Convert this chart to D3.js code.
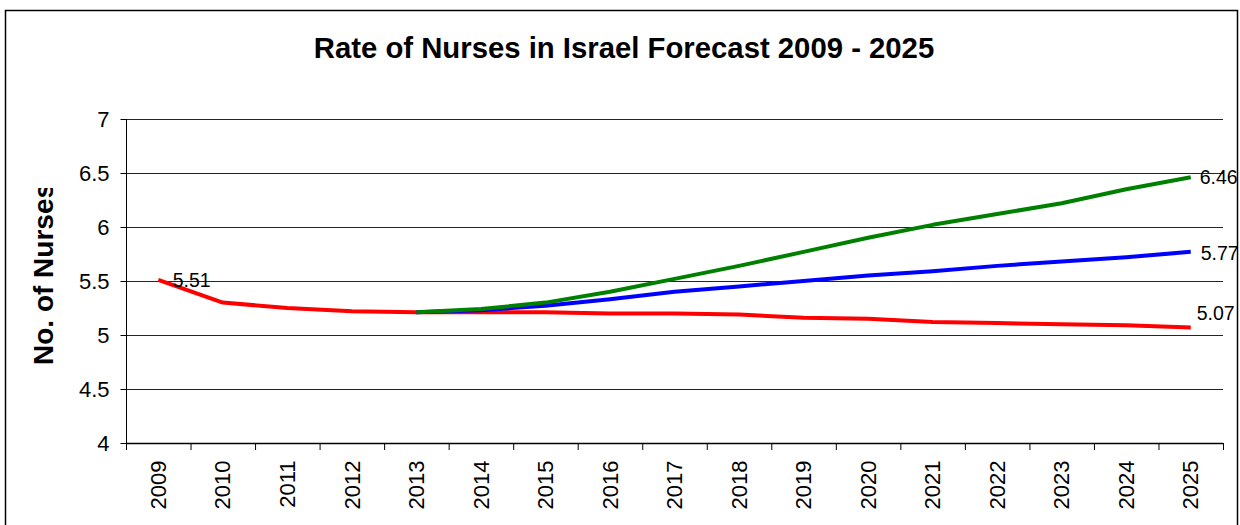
<!DOCTYPE html>
<html><head><meta charset="utf-8">
<script src="https://cdn.jsdelivr.net/npm/d3@7"></script>
<style>body{margin:0;background:#fff}svg{display:block;font-family:"Liberation Sans",Arial,sans-serif}</style>
</head><body><svg id="c" width="1240" height="525"></svg>
<script>
const years = ["2009","2010","2011","2012","2013","2014","2015","2016","2017","2018","2019","2020","2021","2022","2023","2024","2025"];
const redValues = [5.51,5.30,5.25,5.22,5.21,5.21,5.21,5.20,5.20,5.19,5.16,5.15,5.12,5.11,5.10,5.09,5.07];
const blueValues = [null,null,null,null,5.21,5.23,5.27,5.33,5.40,5.45,5.50,5.55,5.59,5.64,5.68,5.72,5.77];
const greenValues = [null,null,null,null,5.21,5.24,5.30,5.40,5.52,5.64,5.77,5.90,6.02,6.12,6.22,6.35,6.46];
const yTicks = [4,4.5,5,5.5,6,6.5,7];
const title = "Rate of Nurses in Israel Forecast 2009 - 2025";
const yLabel = "No. of Nurses";

const svg = d3.select("#c");
const L = 126, R = 1223, T = 119, B = 443;
svg.append("rect").attr("x",5.5).attr("y",10.5).attr("width",1232).attr("height",530)
  .attr("fill","none").attr("stroke","#000").attr("stroke-width",1.5);

const x = d3.scaleBand().domain(years).range([L,R]);
const y = d3.scaleLinear().domain([4,7]).range([B,T]);

svg.append("text").attr("x",624).attr("y",58).attr("text-anchor","middle")
  .attr("font-size",29.3).attr("font-weight","bold").text(title);

// gridlines
svg.append("g").selectAll("line").data(yTicks.filter(d=>d>4)).join("line")
  .attr("x1",L).attr("x2",R).attr("y1",d=>Math.round(y(d))+0.5).attr("y2",d=>Math.round(y(d))+0.5)
  .attr("stroke","#000").attr("stroke-width",1).attr("opacity",0.85);

// y axis
const ya = svg.append("g").attr("transform",`translate(${L+0.5},0)`)
  .call(d3.axisLeft(y).tickValues(yTicks).tickFormat(d3.format("")).tickSize(6).tickPadding(11));
ya.select(".domain").attr("stroke","#000").attr("d",`M0,${T}V${B}`);
ya.selectAll("text").attr("font-size",22).attr("fill","#000").attr("font-family","Liberation Sans, Arial, sans-serif");

// x axis
const xa = svg.append("g").attr("transform",`translate(0,${B+0.5})`)
  .call(d3.axisBottom(x).tickSize(0).tickPadding(0));
xa.select(".domain").attr("d",`M${L},0H${R}`).attr("stroke","#000").attr("stroke-width",1.5);
xa.selectAll(".tick text").attr("font-size",22).attr("fill","#000").attr("font-family","Liberation Sans, Arial, sans-serif")
  .attr("transform","rotate(-90)").attr("text-anchor","end").attr("x",-17).attr("y",0).attr("dy","0.35em");
const bounds = years.map(d=>x(d)).concat([R]);
svg.append("g").selectAll("line").data(bounds).join("line")
  .attr("x1",d=>d+0.5).attr("x2",d=>d+0.5).attr("y1",B).attr("y2",B+7).attr("stroke","#000");

// y label (clipped at top like the reference)
svg.append("clipPath").attr("id","ylc").append("rect").attr("x",0).attr("y",188).attr("width",100).attr("height",300);
svg.append("g").attr("clip-path","url(#ylc)")
  .append("text").attr("transform","translate(53,365) rotate(-90)").attr("text-anchor","start")
  .attr("font-size",28).attr("font-weight","bold").text(yLabel);

const line = d3.line().defined(d=>d.v!=null).x(d=>x(d.k)+x.bandwidth()/2).y(d=>y(d.v));
const series = [{vals:redValues,c:"#ff0000"},{vals:blueValues,c:"#0000ff"},{vals:greenValues,c:"#008000"}];
series.forEach(s=>{
  svg.append("path").datum(years.map((k,i)=>({k,v:s.vals[i]})))
    .attr("d",line).attr("fill","none").attr("stroke",s.c).attr("stroke-width",4)
    .attr("stroke-linejoin","round");
});

// data labels
const cx = k=>x(k)+x.bandwidth()/2;
const lab = (t,xx,yy)=>svg.append("text").attr("x",xx).attr("y",yy).attr("font-size",19.5).attr("fill","#000").text(t);
lab(d3.format(".2f")(redValues[0]), cx("2009")+14.5, y(redValues[0])+7);
lab(d3.format(".2f")(greenValues[16]), cx("2025")+9, y(greenValues[16])+7);
lab(d3.format(".2f")(blueValues[16]), cx("2025")+10, y(blueValues[16])+8);
lab(d3.format(".2f")(redValues[16]), cx("2025")+6, y(redValues[16])-7.5);
</script></body></html>
